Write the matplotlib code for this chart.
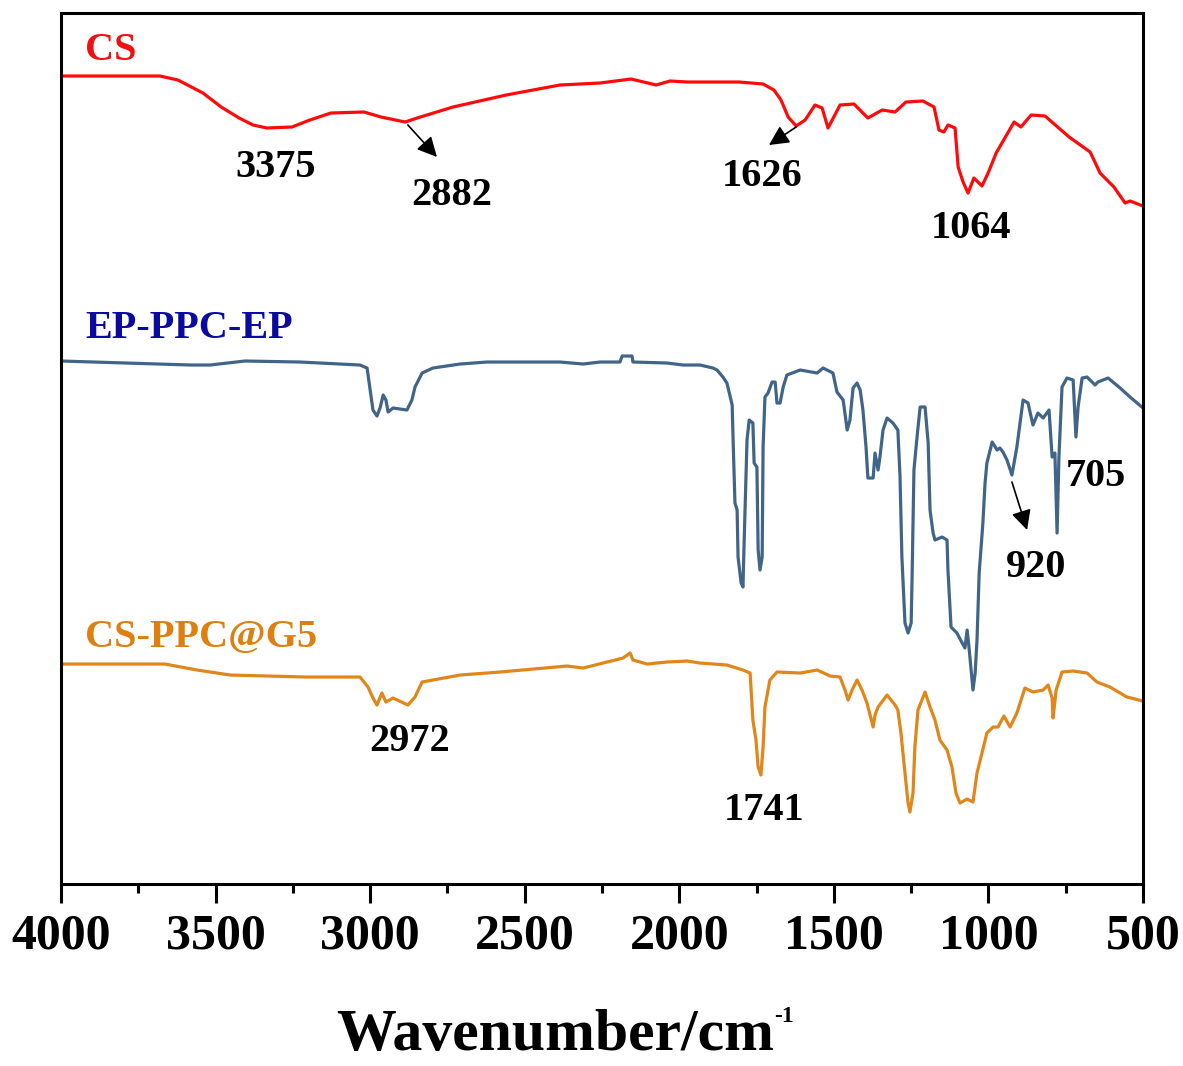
import matplotlib
matplotlib.use("Agg")
import matplotlib.pyplot as plt
from matplotlib.ticker import MultipleLocator

plt.rcParams['font.family'] = ['Liberation Serif', 'DejaVu Serif']
plt.rcParams['font.weight'] = 'bold'

# spectra (wavenumber in cm-1, offset transmittance in a.u.)
cs_wn = [4000, 3680, 3622, 3541, 3482, 3424, 3379, 3334, 3253, 3195, 3127, 3020, 2965, 2887,
         2848, 2732, 2560, 2386, 2256, 2156, 2075, 2030, 1975,
         1807, 1729, 1694, 1671, 1648, 1622, 1593, 1561, 1538, 1519, 1480, 1435, 1390, 1344,
         1302, 1267, 1212, 1176, 1160, 1144, 1131, 1108, 1098, 1082, 1066, 1047, 1021, 1001,
         975, 917, 895, 862, 817, 739, 671, 639, 594, 558, 542, 500]
cs_t = [808, 808, 804, 791, 777, 766, 759, 756, 757, 764, 771, 772, 767, 762,
        766, 777, 789, 799, 801, 805, 799, 803, 802,
        802, 800, 794, 784, 767, 758, 764, 779, 776, 756, 779, 780, 766, 774,
        772, 782, 783, 777, 754, 752, 759, 756, 717, 702, 691, 706, 698, 711,
        731, 762, 757, 769, 768, 747, 732, 711, 697, 681, 683, 678]

ep_wn = [4000, 3580, 3518, 3405, 3227, 3033, 3010, 3000, 2991, 2978, 2968, 2958, 2949, 2942,
         2926, 2881, 2865, 2855, 2832, 2797, 2709, 2622, 2386, 2311, 2256, 2192, 2185, 2153,
         2150, 2040, 1988, 1933, 1891, 1878, 1859, 1846, 1829, 1826, 1820, 1813, 1810, 1800,
         1794, 1791, 1781, 1774, 1762, 1758, 1749, 1745, 1739, 1732, 1729, 1723, 1713, 1700,
         1690, 1684, 1674, 1664, 1652, 1609, 1554, 1535, 1503, 1490, 1470, 1457, 1448, 1438,
         1425, 1415, 1406, 1396, 1390, 1373, 1367, 1357, 1351, 1341, 1328, 1309, 1293, 1286,
         1280, 1270, 1260, 1250, 1247, 1241, 1231, 1221, 1205, 1195, 1189, 1179, 1173, 1150,
         1134, 1131, 1121, 1102, 1085, 1076, 1069, 1063, 1056, 1050, 1043, 1037, 1030, 1018,
         1011, 1005, 988, 972, 963, 953, 940, 924, 908, 888, 872, 856, 840, 823, 804, 794,
         785, 778, 772, 762, 746, 726, 717, 710, 697, 681, 655, 646, 613, 574, 542, 500]
ep_t = [523, 519, 519, 523, 522, 519, 516, 494, 474, 468, 476, 489, 484, 472,
        476, 474, 484, 497, 511, 516, 520, 522, 522, 520, 522, 522, 528, 528,
        522, 521, 519, 519, 516, 514, 507, 501, 479, 444, 381, 374, 327, 301,
        297, 334, 444, 464, 461, 421, 417, 334, 314, 327, 437, 487, 491, 502,
        502, 481, 481, 497, 509, 514, 511, 516, 511, 492, 484, 454, 464, 496,
        501, 494, 474, 437, 406, 406, 431, 414, 427, 454, 466, 461, 454, 407,
        327, 261, 251, 261, 307, 414, 447, 477, 477, 441, 374, 351, 344, 347,
        344, 314, 257, 251, 241, 236, 254, 237, 214, 194, 211, 244, 311, 361,
        401, 421, 442, 434, 436, 432, 424, 409, 437, 484, 481, 459, 471, 466, 474, 427,
        431, 351, 427, 497, 506, 504, 447, 477, 506, 507, 499, 502, 506, 496, 487, 476]

g5_wn = [4000, 3664, 3560, 3453, 3207, 3033, 3007, 2991, 2978, 2962, 2949, 2926, 2878, 2855, 2832,
         2709, 2580, 2363, 2311, 2182, 2159, 2150, 2104, 2040, 1975, 1933, 1846, 1794, 1771,
         1762, 1752, 1745, 1736, 1729, 1723, 1707, 1684, 1609, 1554, 1512, 1480, 1464, 1454,
         1441, 1425, 1409, 1393, 1383, 1373, 1367, 1357, 1328, 1302, 1293, 1283, 1270, 1260,
         1254, 1244, 1238, 1228, 1205, 1189, 1173, 1157, 1134, 1118, 1105, 1092, 1069, 1050,
         1037, 1021, 1005, 985, 969, 950, 930, 908, 882, 856, 823, 807, 794, 791, 781, 762,
         726, 681, 649, 607, 552, 500]
g5_t = [220, 220, 214, 209, 207, 207, 197, 186, 179, 191, 182, 186, 179, 187, 202,
        209, 212, 218, 216, 226, 231, 224, 220, 222, 223, 221, 219, 214, 211,
        164, 144, 117, 109, 137, 177, 204, 212, 211, 214, 208, 207, 194, 184,
        194, 204, 194, 181, 169, 157, 169, 177, 189, 179, 174, 151, 111, 81,
        72, 91, 137, 174, 192, 177, 164, 144, 134, 117, 91, 81, 85, 82,
        111, 131, 151, 157, 157, 168, 157, 171, 196, 192, 194, 199, 186, 166, 194, 212,
        213, 211, 202, 197, 187, 183]

names = ["CS", "EP-PPC-EP", "CS-PPC@G5"]
line_colors = ["#FF0A0A", "#416489", "#E0861A"]
name_colors = ["#F01010", "#0A0AA0", "#DE7F10"]
name_y = [834, 556, 247]

peaks = ["3375", "2882", "1626", "1064", "920", "705", "2972", "1741"]
peak_x = [3305, 2735, 1732, 1056, 846, 652, 2871, 1726]
peak_y = [717, 689, 708, 656, 317, 408, 143, 74]

# arrows: (tail wn, tail y, head wn, head y)
arrows = [(2878, 759, 2784, 727), (1622, 757, 1710, 739), (924, 402, 875, 354)]

fig = plt.figure(figsize=(11.83, 10.66), dpi=100)
ax = fig.add_axes([0.0516, 0.1707, 0.9146, 0.8171])

for wn, t, c in zip([cs_wn, ep_wn, g5_wn], [cs_t, ep_t, g5_t], line_colors):
    ax.plot(wn, t, color=c, lw=2.3, solid_joinstyle='round')

for n, c, y in zip(names, name_colors, name_y):
    ax.text(3922, y, n, color=c, fontsize=29, fontweight='bold', ha='left', va='center')

for p, x, y in zip(peaks, peak_x, peak_y):
    ax.text(x, y, p, color='black', fontsize=29, fontweight='bold', ha='center', va='center')

for x0, y0, x1, y1 in arrows:
    ax.annotate('', xy=(x1, y1), xytext=(x0, y0),
                arrowprops=dict(arrowstyle='-|>', color='black', lw=1.2,
                                mutation_scale=30, shrinkA=0, shrinkB=0))

ax.set_xlim(4000, 500)
ax.set_ylim(0, 871)
ax.set_yticks([])
ax.xaxis.set_major_locator(MultipleLocator(500))
ax.xaxis.set_minor_locator(MultipleLocator(250))
ax.tick_params(axis='x', which='major', direction='out', length=13.5, width=2.2,
               labelsize=36, pad=8)
ax.tick_params(axis='x', which='minor', direction='out', length=6.5, width=2.2)
for lab in ax.get_xticklabels():
    lab.set_fontweight('bold')
for s in ax.spines.values():
    s.set_linewidth(2.2)

# axis title with a small raised "-1"
fig.text(336 / 1183, 16 / 1066, "Wavenumber/cm", fontsize=43, fontweight='bold',
         ha='left', va='baseline')
fig.text(774 / 1183, 44 / 1066, "-1", fontsize=17, fontweight='bold',
         ha='left', va='baseline')

fig.savefig("out.png", dpi=100)
